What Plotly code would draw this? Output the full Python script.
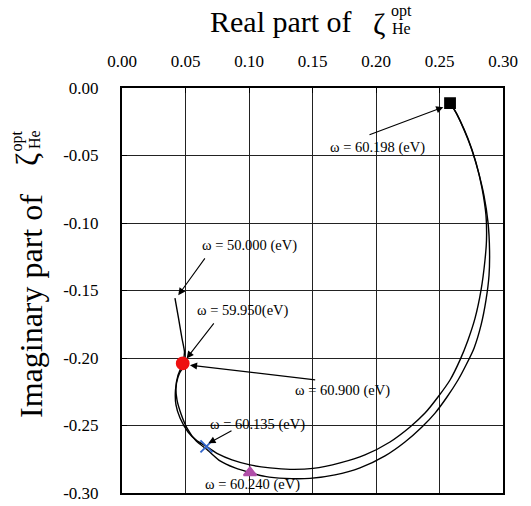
import plotly.graph_objects as go

# ---- data ----
# first pass: omega 50.000 -> 60.198 eV
re_a = [0.0417, 0.0445, 0.0472, 0.0492, 0.0478, 0.0441, 0.0421, 0.0425, 0.0457, 0.0520,
        0.0591, 0.0665, 0.0756, 0.0866, 0.1008, 0.1165, 0.1323, 0.1504, 0.1717, 0.1913,
        0.2110, 0.2268, 0.2386, 0.2488, 0.2583, 0.2661, 0.2724, 0.2780, 0.2827, 0.2858,
        0.2870, 0.2866, 0.2835, 0.2787, 0.2724, 0.2661, 0.2606, 0.2583]
im_a = [-0.1557, -0.1705, -0.1853, -0.1956, -0.2040, -0.2127, -0.2237, -0.2348, -0.2445, -0.2548,
        -0.2614, -0.2655, -0.2711, -0.2755, -0.2792, -0.2814, -0.2825, -0.2818, -0.2777, -0.2718,
        -0.2622, -0.2511, -0.2408, -0.2289, -0.2163, -0.2016, -0.1868, -0.1705, -0.1498, -0.1276,
        -0.1128, -0.0943, -0.0743, -0.0551, -0.0374, -0.0240, -0.0144, -0.0112]
# second pass: omega 60.198 -> 60.900 eV
re_b = [0.2583, 0.2630, 0.2685, 0.2748, 0.2803, 0.2850, 0.2882, 0.2894, 0.2890, 0.2866,
        0.2827, 0.2772, 0.2709, 0.2646, 0.2559, 0.2465, 0.2362, 0.2228, 0.2071, 0.1874,
        0.1677, 0.1480, 0.1283, 0.1126, 0.1008, 0.0890, 0.0772, 0.0677, 0.0583, 0.0512,
        0.0465, 0.0433, 0.0425, 0.0441, 0.0472, 0.0504]
im_b = [-0.0112, -0.0181, -0.0292, -0.0440, -0.0610, -0.0795, -0.0995, -0.1202, -0.1387, -0.1572,
        -0.1757, -0.1927, -0.2052, -0.2163, -0.2289, -0.2408, -0.2511, -0.2622, -0.2725, -0.2814,
        -0.2866, -0.2892, -0.2892, -0.2877, -0.2849, -0.2814, -0.2762, -0.2685, -0.2614, -0.2519,
        -0.2415, -0.2311, -0.2223, -0.2141, -0.2082, -0.2053]

# marked points
marker_re = [0.2583, 0.0478, 0.0665, 0.1008]
marker_im = [-0.0112, -0.2040, -0.2655, -0.2849]
marker_symbols = ["square", "circle", "x-thin-open", "triangle-up"]
marker_colors = ["#000000", "#ee1111", "#3366cc", "#b04fa8"]
marker_sizes = [10, 12, 12, 11]

# labels: text, text position, arrow tail, arrow head
labels = ["ω = 60.198 (eV)", "ω = 50.000 (eV)", "ω = 59.950(eV)",
          "ω = 60.900 (eV)", "ω = 60.135 (eV)", "ω = 60.240 (eV)"]
label_re = [0.2012, 0.1000, 0.0955, 0.1736, 0.1067, 0.1028]
label_im = [-0.0438, -0.1165, -0.1646, -0.2237, -0.2496, -0.2940]
tail_re = [0.1937, 0.0661, 0.0732, 0.1533, 0.0874, None]
tail_im = [-0.0351, -0.1251, -0.1732, -0.2163, -0.2533, None]
head_re = [0.2530, 0.0443, 0.0509, 0.0535, 0.0680, None]
head_im = [-0.0142, -0.1535, -0.2003, -0.2053, -0.2632, None]

tick_vals_x = [0.00, 0.05, 0.10, 0.15, 0.20, 0.25, 0.30]
tick_text_x = ["0.00", "0.05", "0.10", "0.15", "0.20", "0.25", "0.30"]
tick_vals_y = [0.00, -0.05, -0.10, -0.15, -0.20, -0.25, -0.30]
tick_text_y = ["0.00", "-0.05", "-0.10", "-0.15", "-0.20", "-0.25", "-0.30"]

FONT = "Liberation Serif, Times New Roman, serif"

fig = go.Figure()
fig.add_trace(go.Scatter(x=re_a, y=im_a, mode="lines", line=dict(color="black", width=1.4, shape="spline", smoothing=0.6),
                         showlegend=False, hoverinfo="skip"))
fig.add_trace(go.Scatter(x=re_b, y=im_b, mode="lines", line=dict(color="black", width=1.4, shape="spline", smoothing=0.6),
                         showlegend=False, hoverinfo="skip"))
for i in range(len(marker_re)):
    fig.add_trace(go.Scatter(x=[marker_re[i]], y=[marker_im[i]], mode="markers",
                             marker=dict(symbol=marker_symbols[i], color=marker_colors[i], size=marker_sizes[i],
                                         line=dict(color=marker_colors[i], width=1.8)),
                             showlegend=False))

ann = []
for i, t in enumerate(labels):
    ann.append(dict(x=label_re[i], y=label_im[i], xref="x", yref="y", text=t, showarrow=False,
                    font=dict(family=FONT, size=14.5, color="black"), xanchor="center", yanchor="middle"))
    if tail_re[i] is not None:
        ann.append(dict(x=head_re[i], y=head_im[i], ax=tail_re[i], ay=tail_im[i], xref="x", yref="y",
                        axref="x", ayref="y", text="", showarrow=True, arrowhead=2, arrowsize=1.3,
                        arrowwidth=1.1, arrowcolor="black", standoff=0, startstandoff=0))


# page pixel -> paper coordinates (plot area spans x 122..503, y 88..493 on the page)
def px(xp):
    return (xp - 122) / 381.0


def py(yp):
    return (493 - yp) / 405.0


def title_part(text, xp, yp, size, angle=0, xanchor="center"):
    ann.append(dict(x=px(xp), y=py(yp), xref="paper", yref="paper", text=text, showarrow=False,
                    textangle=angle, font=dict(family=FONT, size=size, color="black"),
                    xanchor=xanchor, yanchor="middle"))


# x-axis title (top) with stacked super/subscript
title_part("Real part of", 208, 21, 30, xanchor="left")
title_part("ζ", 379, 24, 30)
title_part("opt", 401, 11, 16)
title_part("He", 401, 28, 16)
# y-axis title (left), rotated
title_part("Imaginary part of", 31, 306, 32, angle=-90)
title_part("ζ", 27, 160, 32, angle=-90)
title_part("opt", 16.5, 141, 16, angle=-90)
title_part("He", 34, 140, 16, angle=-90)

fig.update_layout(
    width=531, height=506,
    margin=dict(l=122, r=28, t=88, b=13, autoexpand=False),
    paper_bgcolor="white", plot_bgcolor="white",
    font=dict(family=FONT, color="black"),
    annotations=ann,
    xaxis=dict(side="top", range=[0, 0.3], tickvals=tick_vals_x, ticktext=tick_text_x,
               showgrid=True, gridcolor="#222222", gridwidth=1, zeroline=False,
               showline=True, linecolor="black", linewidth=2, mirror=True,
               ticks="inside", ticklen=5, tickcolor="black", automargin=False,
               tickfont=dict(family=FONT, size=17, color="black"), ticklabelstandoff=12),
    yaxis=dict(range=[-0.3, 0], tickvals=tick_vals_y, ticktext=tick_text_y,
               showgrid=True, gridcolor="#222222", gridwidth=1, zeroline=False,
               showline=True, linecolor="black", linewidth=2, mirror=True,
               ticks="inside", ticklen=5, tickcolor="black", automargin=False,
               tickfont=dict(family=FONT, size=17, color="black"), ticklabelstandoff=18),
)

# remove the browser's default 8px page margin so the figure sits at the window's corner
fig.write_html("out.html", config={"displayModeBar": False},
               post_script="document.body.style.margin='0';")
